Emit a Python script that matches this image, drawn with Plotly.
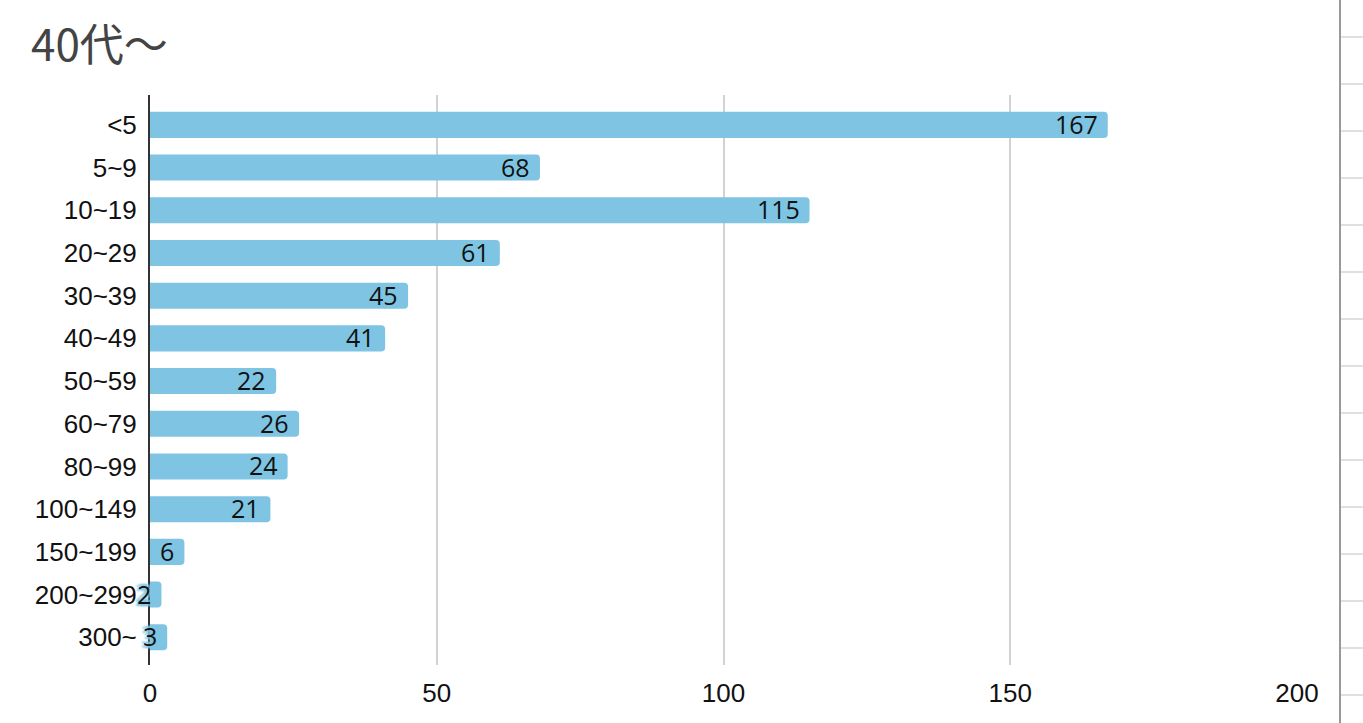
import plotly.graph_objects as go

categories = ["<5", "5~9", "10~19", "20~29", "30~39", "40~49", "50~59",
              "60~79", "80~99", "100~149", "150~199", "200~299", "300~"]
values = [167, 68, 115, 61, 45, 41, 22, 26, 24, 21, 6, 2, 3]
x_ticks = [0, 50, 100, 150, 200]
title_text = "40代～"

BAR = "#7fc5e3"
W, H = 1363, 723
L, R, T, B = 150, W - 1297, 95, 58
PH = H - T - B
PW = W - L - R

fig = go.Figure(go.Bar(
    y=categories, x=values, orientation="h",
    marker=dict(color=BAR, cornerradius=4, line=dict(width=0)),
    width=0.61,
    hoverinfo="skip",
))

halo = f"2px 2px 2px {BAR}, -2px -2px 2px {BAR}, 2px -2px 2px {BAR}, -2px 2px 2px {BAR}"
annotations = [
    dict(x=v, y=c, xref="x", yref="y", text=str(v), showarrow=False,
         xanchor="right", yanchor="middle", xshift=-8, yshift=1,
         font=dict(family="Open Sans", size=25, color="#111", shadow=halo))
    for c, v in zip(categories, values)
]

shapes = [dict(type="line", xref="paper", yref="paper",
               x0=(1340 - L) / PW, x1=(1340 - L) / PW,
               y0=1 - (H - T) / PH, y1=1 + T / PH,
               line=dict(color="#999999", width=2), layer="above")]
# spreadsheet cell borders on the right edge
for yy in range(37, H, 47):
    yp = 1 - (yy - T) / PH
    shapes.append(dict(type="line", xref="paper", yref="paper",
                       x0=(1341 - L) / PW, x1=(W - L) / PW,
                       y0=yp, y1=yp, line=dict(color="#e0e0e0", width=2)))

fig.update_layout(
    width=W, height=H,
    margin=dict(l=L, r=R, t=T, b=B),
    paper_bgcolor="white", plot_bgcolor="white",
    showlegend=False,
    title=dict(text=title_text, x=31 / W, xanchor="left", xref="container",
               y=1 - 46 / H, yanchor="middle", yref="container",
               font=dict(family="Noto Sans CJK JP", size=44, color="#444444")),
    xaxis=dict(range=[0, 200], tickvals=x_ticks, showgrid=True,
               gridcolor="#d2d2d2", gridwidth=2, zeroline=False,
               showline=False, ticks="", ticklabelstandoff=10,
               tickfont=dict(family="Liberation Sans", size=26, color="#111")),
    yaxis=dict(categoryorder="array", categoryarray=categories,
               autorange=False, range=[12.65, -0.7],
               showline=True, linecolor="#333333", linewidth=2,
               showgrid=False, zeroline=False, ticks="", ticklabelstandoff=6,
               tickfont=dict(family="Liberation Sans", size=26, color="#111")),
    bargap=0.39,
    shapes=shapes,
    annotations=annotations,
)

fig.write_html("out.html")
